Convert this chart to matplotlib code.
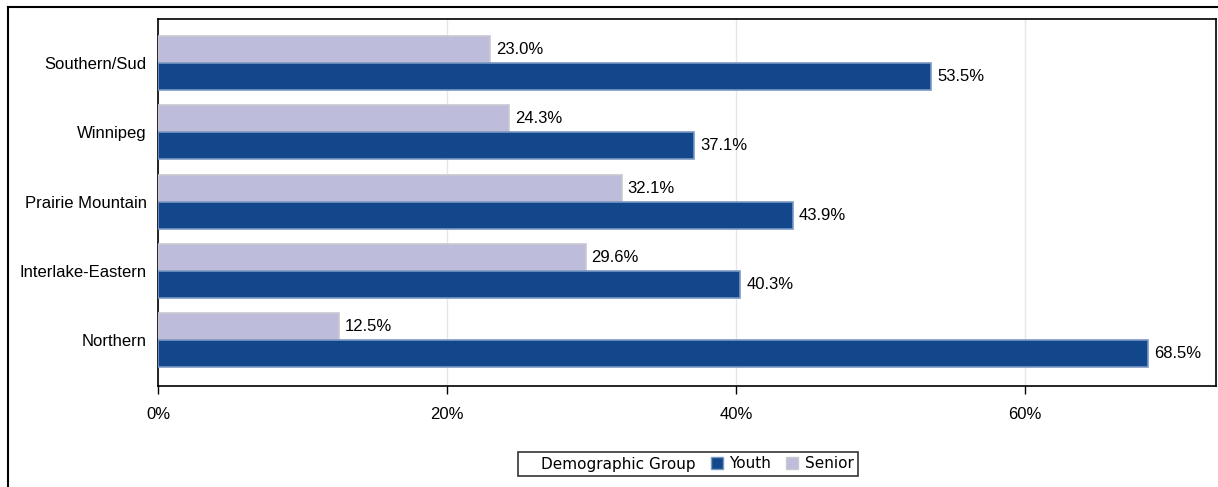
import numpy as np
import matplotlib.pyplot as plt
from matplotlib.patches import Patch
from matplotlib.lines import Line2D

regions = ["Southern/Sud", "Winnipeg", "Prairie Mountain", "Interlake-Eastern", "Northern"]
youth = [53.5, 37.1, 43.9, 40.3, 68.5]
senior = [23.0, 24.3, 32.1, 29.6, 12.5]
xticks = [0, 20, 40, 60]
xtick_labels = ["0%", "20%", "40%", "60%"]

YOUTH_C = "#13478C"
SENIOR_C = "#BDBDDB"

plt.rcParams['font.family'] = ['Liberation Sans', 'DejaVu Sans']

fig = plt.figure(figsize=(12.18, 4.87), dpi=100)
ax = fig.add_axes([158 / 1218, 101 / 487, 1058 / 1218, 367 / 487])

# outer frame (left and top edges)
fig.add_artist(Line2D([8 / 1218, 8 / 1218], [0, 1 - 7 / 487], transform=fig.transFigure,
                      color="black", lw=1.5))
fig.add_artist(Line2D([8 / 1218, 1], [1 - 7 / 487, 1 - 7 / 487], transform=fig.transFigure,
                      color="black", lw=1.5))

y = np.arange(len(regions))
h = 0.39

sb = ax.barh(y - h / 2, senior, height=h, color=SENIOR_C, edgecolor="#C8C8D0", linewidth=1.2, zorder=3)
yb = ax.barh(y + h / 2, youth, height=h, color=YOUTH_C, edgecolor="#7A98C4", linewidth=1.2, zorder=3)

for bars, vals in ((sb, senior), (yb, youth)):
    for b, v in zip(bars, vals):
        ax.text(v + 0.4, b.get_y() + b.get_height() / 2, f"{v:.1f}%",
                va="center", ha="left", fontsize=12, color="black", zorder=4)

ax.set_xlim(0, 73.2)
ax.set_ylim(4.66, -0.635)
ax.set_yticks(y)
ax.set_yticklabels(regions, fontsize=12)
ax.set_xticks(xticks)
ax.set_xticklabels(xtick_labels, fontsize=12)
ax.tick_params(axis="y", length=0, pad=8)
ax.tick_params(axis="x", length=6, width=1, pad=9)
ax.grid(axis="x", color="#E6E6E6", lw=1, zorder=0)
for s in ax.spines.values():
    s.set_linewidth(1.2)

handles = [Patch(color="none"),
           Patch(facecolor=YOUTH_C, edgecolor="#7A98C4"),
           Patch(facecolor=SENIOR_C, edgecolor="#C8C8D0")]
labels = ["Demographic Group", "Youth", "Senior"]
leg = fig.legend(handles, labels, ncol=3, loc="center", bbox_to_anchor=(688 / 1218, 1 - 464 / 487),
                 frameon=True, fancybox=False, edgecolor="black",
                 prop={"family": "DejaVu Sans", "size": 11},
                 handlelength=0.8, handleheight=0.8, handletextpad=0.4, columnspacing=1.0,
                 borderpad=0.3)
leg.get_frame().set_linewidth(1.2)
leg.legend_handles[0].set_visible(False)
leg.legend_handles[0].set_width(0)

fig.savefig("out.png", dpi=100)
